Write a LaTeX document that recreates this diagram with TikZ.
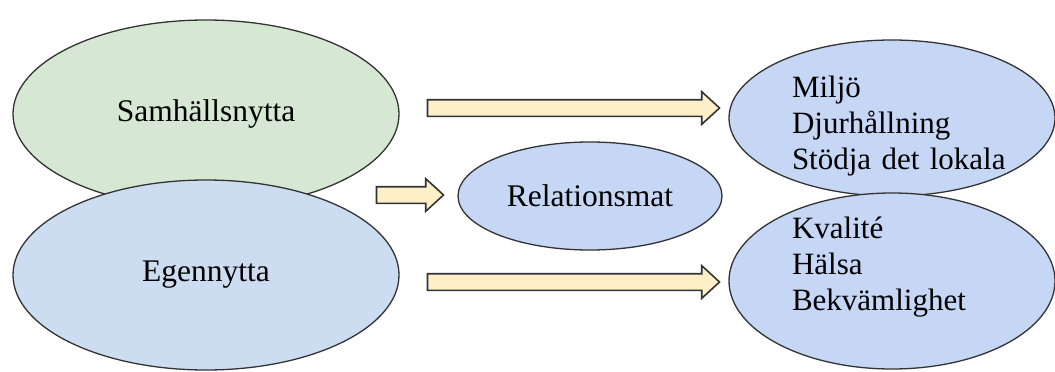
\documentclass[tikz,border=0pt]{standalone}
\usepackage{fontspec}
\setmainfont{Liberation Serif}
\usetikzlibrary{shapes.geometric}
\usetikzlibrary{shapes.arrows}

\definecolor{nyttagreen}{HTML}{D6E8D3}
\definecolor{egenblue}{HTML}{CCDDF2}
\definecolor{matblue}{HTML}{C6D6F5}
\definecolor{pilyellow}{HTML}{FDF0C8}
\definecolor{linegray}{HTML}{333333}

\begin{document}
\begin{tikzpicture}[x=1pt, y=-1pt]
        % Define styles for shapes
        \tikzstyle{oval} = [draw=linegray, line width=1.3pt, ellipse, inner sep=0pt,
            font=\fontsize{31.5}{36}\selectfont]
        \tikzstyle{listtext} = [font=\fontsize{31}{36}\selectfont, inner sep=0pt,
            text width=240pt, align=left]
        \tikzstyle{blockarrow} = [draw=linegray, fill=pilyellow, line width=1.6pt,
            single arrow, inner xsep=0pt, inner ysep=7.5pt, minimum width=31pt,
            single arrow head extend=8pt, single arrow tip angle=85]
        \useasboundingbox (0,0) rectangle (1055,372);
        % Draw shapes
        \node[oval, fill=nyttagreen, minimum width=386pt, minimum height=188pt] (samhall) at (206, 114) {Samhällsnytta};
        \node[oval, fill=egenblue, minimum width=386pt, minimum height=190pt] (egen) at (206, 275) {Egennytta};
        \node[oval, fill=matblue, minimum width=264pt, minimum height=108pt] (relmat) at (590, 196) {Relationsmat};
        \node[oval, fill=matblue, minimum width=326pt, minimum height=156pt] (vals1) at (892, 118) {};
        \node[listtext, xshift=20pt, yshift=-8pt] (vals1text) at (vals1.center) {
            Miljö\\
            Djurhållning\\
            Stödja det lokala
        };
        % second group under the first one, text sits high
        \node[oval, fill=matblue, minimum width=326pt, minimum height=176pt] (vals2) at (892, 281) {};
        \node[listtext, xshift=20pt, yshift=14pt] (vals2text) at (vals2.center) {
            Kvalité\\
            Hälsa\\
            Bekvämlighet
        };

        % Draw arrows
        \node[blockarrow, minimum height=292pt] (arrow1) at (569, 108) {};
        \node[blockarrow, minimum height=67pt] (arrow2) at (405.5, 195) {};
        \node[blockarrow, minimum height=292pt] (arrow3) at (569, 282) {};
    \end{tikzpicture}
\end{document}
